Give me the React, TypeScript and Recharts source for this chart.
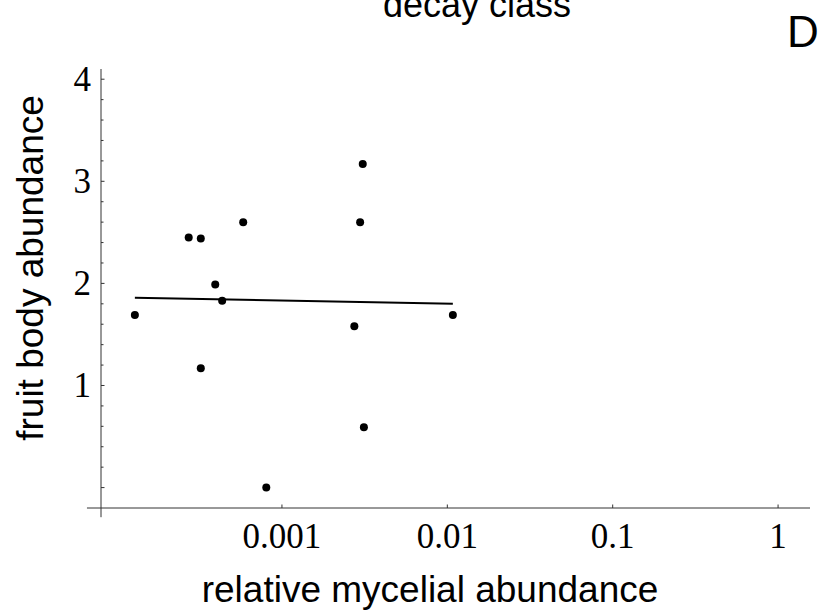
import React from 'react';
import { ScatterChart, Scatter, XAxis, YAxis, ReferenceLine } from 'recharts';

// relative mycelial abundance (x) vs fruit body abundance (y)
const mycelialAbundance = [
  1.29e-4, 2.73e-4, 3.23e-4, 3.95e-4, 4.35e-4, 5.83e-4, 3.23e-4,
  8.04e-4, 2.74e-3, 2.97e-3, 3.08e-3, 3.13e-3, 1.08e-2,
];
const fruitBodyAbundance = [
  1.69, 2.45, 2.44, 1.99, 1.83, 2.6, 1.17,
  0.0, 1.58, 2.6, 3.17, 0.59, 1.69,
];

// fitted line end points
const fitX = [1.29e-4, 1.08e-2];
const fitY = [1.86, 1.8];

const X_TICKS = [0.001, 0.01, 0.1, 1];
const X_TICK_LABELS = ['0.001', '0.01', '0.1', '1'];
const Y_TICKS = [0, 0.2, 0.4, 0.6, 0.8, 1, 1.2, 1.4, 1.6, 1.8, 2, 2.2, 2.4, 2.6, 2.8, 3, 3.2, 3.4, 3.6, 3.8, 4];
const Y_TICK_LABELS = ['1', '2', '3', '4'];

const X_DOMAIN = [8.05e-5, 1.56];
const Y_DOMAIN = [-0.2, 4.1];

const points = mycelialAbundance.map((x, i) => ({ x, y: fruitBodyAbundance[i] }));
const fitLine = fitX.map((x, i) => ({ x, y: fitY[i] }));

const SERIF = "'Liberation Serif', 'Times New Roman', serif";
const SANS = "'Liberation Sans', Arial, sans-serif";
const AXIS_COLOR = '#333';

const XTick = (props: any) => {
  const { x, y, payload } = props;
  const axisY = y - 10;
  const idx = X_TICKS.indexOf(payload.value);
  return (
    <g>
      <line x1={x} x2={x} y1={axisY} y2={axisY - 3.5} stroke={AXIS_COLOR} strokeWidth={1} />
      <text x={x} y={axisY + 40} textAnchor="middle" fontFamily={SERIF} fontSize={35} fill="#000">
        {idx >= 0 ? X_TICK_LABELS[idx] : ''}
      </text>
    </g>
  );
};

const YTick = (props: any) => {
  const { x, y, payload } = props;
  const axisX = x + 10;
  const v = payload.value;
  const major = Math.abs(v - Math.round(v)) < 1e-6;
  const label = major ? Y_TICK_LABELS[Math.round(v) - 1] : undefined;
  return (
    <g>
      <line x1={axisX} x2={axisX + (major ? 3.5 : 2.5)} y1={y} y2={y} stroke={AXIS_COLOR} strokeWidth={1} />
      {label && (
        <text x={x} y={y + 11.5} textAnchor="end" fontFamily={SERIF} fontSize={35} fill="#000">
          {label}
        </text>
      )}
    </g>
  );
};

const Dot = (props: any) => <circle cx={props.cx} cy={props.cy} r={4} fill="#000" />;

export default function App() {
  return (
    <div style={{ position: 'absolute', left: 0, top: 0, width: 823, height: 616, background: '#fff' }}>
      <ScatterChart width={823} height={616} margin={{ top: 69, right: 13, bottom: 58, left: 41 }}>
        <XAxis
          dataKey="x"
          type="number"
          scale="log"
          domain={X_DOMAIN}
          ticks={X_TICKS}
          interval={0}
          allowDataOverflow
          height={50}
          tickSize={6}
          tickMargin={4}
          tickLine={false}
          axisLine={false}
          tick={(p: any) => <XTick {...p} />}
        />
        <YAxis
          dataKey="y"
          type="number"
          domain={Y_DOMAIN}
          ticks={Y_TICKS}
          interval={0}
          allowDataOverflow
          width={60}
          tickSize={6}
          tickMargin={4}
          tickLine={false}
          axisLine={false}
          tick={(p: any) => <YTick {...p} />}
        />
        <ReferenceLine
          segment={[{ x: 6.62e-5, y: -0.2 }, { x: 1.56, y: -0.2 }]}
          stroke={AXIS_COLOR}
          strokeWidth={1}
          ifOverflow="visible"
        />
        <ReferenceLine
          segment={[{ x: 8.05e-5, y: -0.29 }, { x: 8.05e-5, y: 4.1 }]}
          stroke={AXIS_COLOR}
          strokeWidth={1}
          ifOverflow="visible"
        />
        <Scatter
          data={fitLine}
          line={{ stroke: '#000', strokeWidth: 2 }}
          shape={() => <g />}
          isAnimationActive={false}
        />
        <Scatter data={points} shape={Dot} isAnimationActive={false} />
        <text x={477} y={17} textAnchor="middle" fontFamily={SANS} fontSize={36} fill="#000">
          decay class
        </text>
        <text x={787} y={47} fontFamily={SANS} fontSize={44} fill="#000">
          D
        </text>
        <text
          x={43}
          y={268}
          transform="rotate(-90 43 268)"
          textAnchor="middle"
          fontFamily={SANS}
          fontSize={37}
          fill="#000"
        >
          fruit body abundance
        </text>
        <text x={430} y={602} textAnchor="middle" fontFamily={SANS} fontSize={37} fill="#000">
          relative mycelial abundance
        </text>
      </ScatterChart>
    </div>
  );
}
